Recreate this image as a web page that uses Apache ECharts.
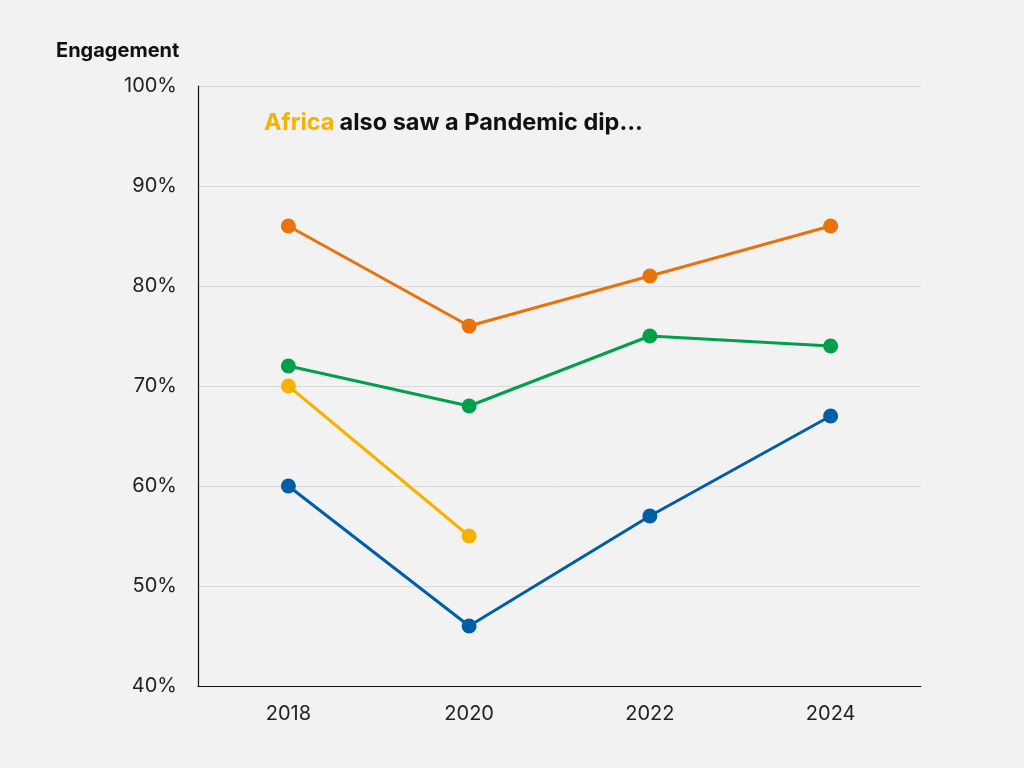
<!DOCTYPE html>
<html><head><meta charset="utf-8">
<script src="https://cdn.jsdelivr.net/npm/echarts@6/dist/echarts.min.js"></script>
<style>html,body{margin:0;padding:0;background:#f2f2f2}#c{width:1024px;height:768px}</style>
</head><body><div id="c"></div>
<script>
const categories = ['2018', '2020', '2022', '2024'];
const seriesOrange = [86, 76, 81, 86];
const seriesGreen = [72, 68, 75, 74];
const seriesAfrica = [70, 55, null, null];
const seriesBlue = [60, 46, 57, 67];
const FONT = 'Inter, "Noto Sans", sans-serif';
const chart = echarts.init(document.getElementById('c'));
function s(name, data, color) {
  return {name, type: 'line', data, symbol: 'circle', symbolSize: 15,
    lineStyle: {color, width: 3}, itemStyle: {color}, connectNulls: false, z: 3};
}
chart.setOption({
  backgroundColor: '#f2f2f2',
  animation: false,
  grid: {left: 198, right: 103, top: 86, bottom: 82},
  title: {
    text: '{a|Africa} {b|also saw a Pandemic dip...}',
    left: 259, top: 106,
    textStyle: {rich: {
      a: {color: '#F5B300', fontSize: 23.5, fontWeight: 'bold', fontFamily: FONT},
      b: {color: '#111111', fontSize: 23.5, fontWeight: 'bold', fontFamily: FONT}
    }}
  },
  graphic: [{type: 'text', left: 56, top: 41, style: {text: 'Engagement', fontSize: 20, fontWeight: 'bold', fill: '#111', fontFamily: FONT}}],
  xAxis: {
    type: 'category', data: categories, boundaryGap: true,
    axisLine: {lineStyle: {color: '#111', width: 1.2}},
    axisTick: {show: false},
    axisLabel: {color: '#222', fontSize: 20, margin: 18, fontFamily: FONT}
  },
  yAxis: {
    type: 'value', min: 40, max: 100, interval: 10,
    axisLine: {show: true, lineStyle: {color: '#111', width: 1.2}},
    axisTick: {show: false},
    splitLine: {lineStyle: {color: '#d9d9d9', width: 1}},
    axisLabel: {color: '#222', fontSize: 20, margin: 21, fontFamily: FONT, formatter: '{value}%'}
  },
  series: [
    s('Orange', seriesOrange, '#E8730A'),
    s('Green', seriesGreen, '#00A04A'),
    s('Africa', seriesAfrica, '#F5B300'),
    s('Blue', seriesBlue, '#005EA6')
  ]
});
</script></body></html>
